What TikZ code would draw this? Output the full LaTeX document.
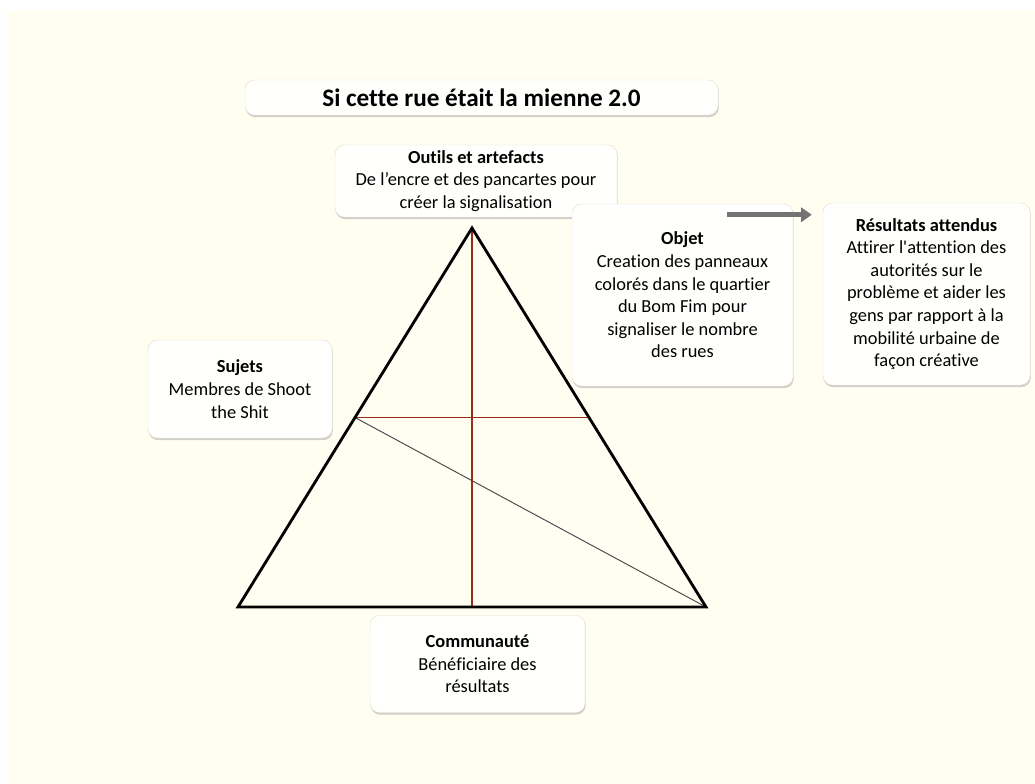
\documentclass[tikz,border=0pt]{standalone}
\usepackage{fontspec}
\setmainfont{Carlito}[Ligatures=NoCommon]
\usetikzlibrary{arrows.meta,calc,shadows}
\definecolor{paper}{RGB}{255,254,241}
\definecolor{cardFill}{RGB}{255,255,253}
\definecolor{cardLine}{RGB}{226,224,214}
\definecolor{axisRed}{RGB}{150,45,25}
\definecolor{diagGrey}{RGB}{70,70,80}

\begin{document}
\begin{tikzpicture}[
  x=0.03cm, y=-0.03cm,
  card/.style={rounded corners=8pt, draw=cardLine, line width=0.4pt, fill=cardFill,
    drop shadow={shadow xshift=0.6pt, shadow yshift=-1.8pt, opacity=0.4, fill=black!45},
    align=center, inner sep=0pt, font=\fontsize{15.7}{19.3}\selectfont},
  titlecard/.style={card, font=\fontsize{21.5}{24}\selectfont\bfseries},
  edge/.style={line width=2.4pt, line join=miter},
  axis/.style={axisRed, line width=1.2pt},
  diag/.style={diagGrey, line width=0.8pt},
  flow/.style={-{Triangle[length=9pt, width=12pt]}, line width=4.2pt, draw=black!55},
]
\useasboundingbox (0,0) rectangle (1035,784);
\fill[paper] (7,10) rectangle (1035,784);

% ======================= title =======================
\node[titlecard, minimum width=14.19cm, minimum height=1.05cm] (title) at (481.5,97.5)
  {Si cette rue était la mienne 2.0};

% ======================= triangle =======================
\coordinate (apex) at (472,228);
\coordinate (bl) at (238,607);
\coordinate (br) at (706,607);
\coordinate (ml) at ($(apex)!0.5!(bl)$);
\coordinate (mr) at ($(apex)!0.5!(br)$);
\coordinate (foot) at ($(bl)!0.5!(br)$);

\draw[diag] (ml) -- (br);
\draw[axis] (ml) -- (mr);
\draw[axis] (apex) -- (foot);
\draw[edge] (apex) -- (bl) -- (br) -- cycle;

% ======================= corner cards =======================
\node[card, minimum width=8.46cm, minimum height=2.16cm] (tools) at (476,181)
  {\textbf{Outils et artefacts}\\ De l’encre et des pancartes pour\\ créer la signalisation};
\node[card, minimum width=5.52cm, minimum height=2.94cm] (subj) at (240,389)
  {\textbf{Sujets}\\ Membres de Shoot\\ the Shit};
\node[card, minimum width=6.45cm, minimum height=2.91cm] (comm) at (477.5,664)
  {\textbf{Communauté}\\ Bénéficiaire des\\ résultats};
\node[card, minimum width=6.63cm, minimum height=5.46cm] (obj) at (682.5,295)
  {\textbf{Objet}\\ Creation des panneaux\\ colorés dans le quartier\\ du Bom Fim pour\\ signaliser le nombre\\ des rues};
\node[card, minimum width=6.21cm, minimum height=5.46cm] (res) at (926.5,294)
  {\textbf{Résultats attendus}\\ Attirer l\textquotesingle attention des\\ autorités sur le\\ problème et aider les\\ gens par rapport à la\\ mobilité urbaine de\\ façon créative};

% ======================= arrow object -> results =======================
\coordinate (flowS) at ($(obj.north east)+(-66,11)$);
\coordinate (flowE) at ($(flowS -| res.west)+(-11,0)$);
\draw[flow] (flowS) -- (flowE);

\end{tikzpicture}
\end{document}
